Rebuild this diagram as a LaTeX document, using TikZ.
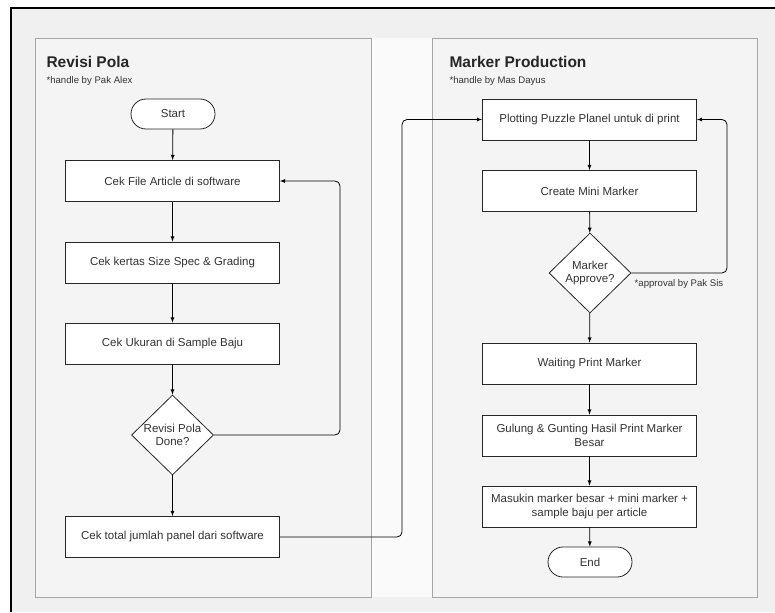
\documentclass[tikz,border=0pt]{standalone}
\usepackage{fontspec}
\setmainfont{Liberation Sans}
\usetikzlibrary{shapes.geometric}
\definecolor{bggray}{HTML}{F0F0F0}
\definecolor{lanegray}{HTML}{F4F4F4}
\definecolor{gapgray}{HTML}{FAFAFA}
\definecolor{txtgray}{HTML}{333333}
\begin{document}
\begin{tikzpicture}[>=latex, x=1pt, y=-1pt,
    proses/.style={draw=black!85, fill=white, line width=.8pt, minimum width=214pt,
        minimum height=41pt, text=txtgray, align=center, font=\fontsize{11.5}{13.5}\selectfont},
    keputusan/.style={draw=black!85, fill=white, line width=.8pt, diamond, minimum width=82pt,
        minimum height=80pt, inner sep=0pt},
    teksbelah/.style={text=txtgray, align=center, font=\fontsize{11.5}{13.5}\selectfont},
    terminal/.style={draw=black!85, fill=white, line width=.8pt, rounded corners=15pt,
        minimum width=84pt, minimum height=30pt, text=txtgray, font=\fontsize{11.5}{13.5}\selectfont},
    judul/.style={anchor=west, font=\bfseries\fontsize{15.5}{18}\selectfont, text=black!85},
    catatan/.style={anchor=west, font=\fontsize{9.6}{11}\selectfont, text=txtgray},
    alur/.style={->, line width=.8pt}]
    \useasboundingbox (0,0) rectangle (775,612);
    %latar belakang dan bingkai luar
    \fill[bggray] (11,8) rectangle (775,612);
    \draw[line width=1.5pt] (11,612) -- (11,8) -- (775,8);
    \fill[gapgray] (371,38) rectangle (432,597);
    %dua lajur
    \draw[gray!70, fill=lanegray] (35,38) rectangle (371,597);
    \draw[gray!70, fill=lanegray] (432,38) rectangle (757,597);
    \node[judul] (jkiri) at (43,62) {Revisi Pola};
    \node[catatan] (ckiri) at (43,81) {*handle by Pak Alex};
    \node[judul] (jkanan) at (446,62) {Marker Production};
    \node[catatan] (ckanan) at (446,81) {*handle by Mas Dayus};

    %lajur kiri
    \node[terminal] (start) at (173,114) {Start};
    \node[proses] (cekfile) at (172.5,181) {Cek File Article di software};
    \node[proses] (cekkertas) at (172.5,262.5) {Cek kertas Size Spec \& Grading};
    \node[proses] (cekukuran) at (172.5,343.5) {Cek Ukuran di Sample Baju};
    \node[keputusan, label={[teksbelah]center:{Revisi Pola\\Done?}}] (revisi) at (172.5,435) {};
    \node[proses] (cektotal) at (172.5,537) {Cek total jumlah panel dari software};

    %lajur kanan
    \node[proses] (plotting) at (589.5,119.5) {Plotting Puzzle Planel untuk di print};
    \node[proses] (mini) at (589.5,191) {Create Mini Marker};
    \node[keputusan, label={[teksbelah]center:{Marker\\Approve?}}] (approve) at (590,273) {};
    \node[proses] (waiting) at (589.5,363.5) {Waiting Print Marker};
    \node[proses] (gulung) at (589.5,435.5) {Gulung \& Gunting Hasil Print Marker\\Besar};
    \node[proses] (masukin) at (589.5,506.5) {Masukin marker besar + mini marker +\\sample baju per article};
    \node[terminal] (end) at (590,562) {End};
    \node[catatan, anchor=center] (approval) at (679,284) {*approval by Pak Sis};

    %titik belok
    \coordinate (belokA) at (340,0);
    \coordinate (belokB) at (402,0);
    \coordinate (belokC) at (727,0);

    \draw[alur] (start) -- (cekfile);
    \draw[alur] (cekfile) -- (cekkertas);
    \draw[alur] (cekkertas) -- (cekukuran);
    \draw[alur] (cekukuran) -- (revisi);
    \draw[alur] (revisi) -- (cektotal);
    \draw[alur, rounded corners=5pt] (revisi.east) -- (revisi.east -| belokA) |- (cekfile.east);
    \draw[alur, rounded corners=5pt] (cektotal.east) -- (cektotal.east -| belokB) |- (plotting.west);
    \draw[alur] (plotting) -- (mini);
    \draw[alur] (mini) -- (approve);
    \draw[alur, rounded corners=5pt] (approve.east) -- (approve.east -| belokC) |- (plotting.east);
    \draw[alur] (approve) -- (waiting);
    \draw[alur] (waiting) -- (gulung);
    \draw[alur] (gulung) -- (masukin);
    \draw[alur] (masukin) -- (end);
\end{tikzpicture}
\end{document}
